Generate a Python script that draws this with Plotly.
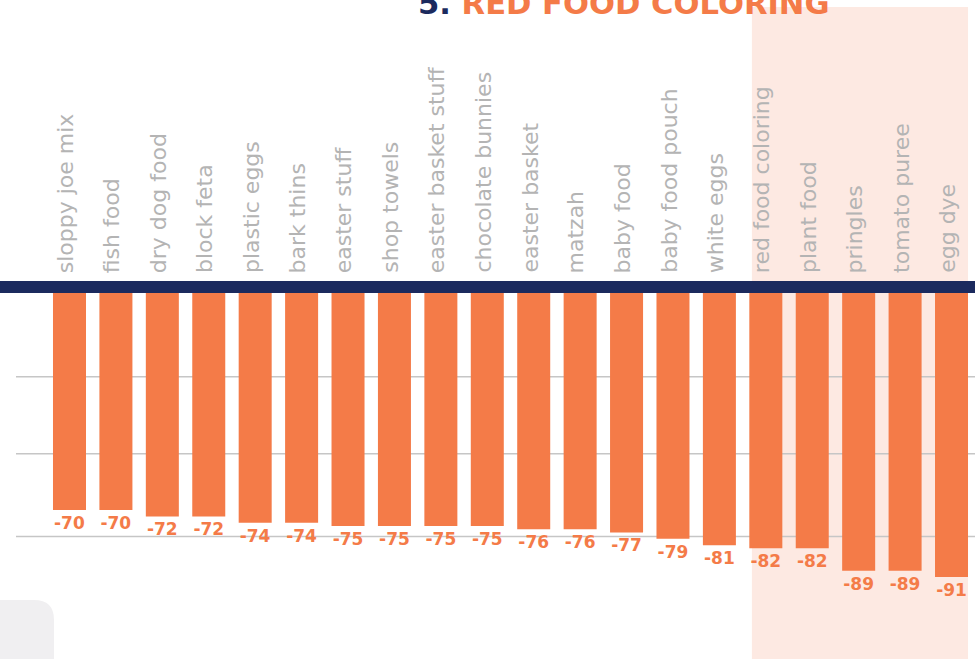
import plotly.graph_objects as go

categories = ["sloppy joe mix", "fish food", "dry dog food", "block feta", "plastic eggs",
              "bark thins", "easter stuff", "shop towels", "easter basket stuff",
              "chocolate bunnies", "easter basket", "matzah", "baby food", "baby food pouch",
              "white eggs", "red food coloring", "plant food", "pringles", "tomato puree", "egg dye"]
values = [-70, -70, -72, -72, -74, -74, -75, -75, -75, -75, -76, -76, -77, -79, -81,
          -82, -82, -89, -89, -91]
value_labels = [str(v) for v in values]
grid_values = [-28.2, -52.3, -78.3]
title_number = "5."
title_text = "RED FOOD COLORING"

ORANGE = "#f47b48"
NAVY = "#1b2a5e"
PINK = "#fde9e2"
GREY_TXT = "#b4b4b4"
W, H = 975, 659
TOP = 0
PH = H - TOP
# y-scale: zero at 287px, 3.187 px per unit
Y_TOP = 287 / 3.187
Y_BOT = -(H - 287) / 3.187

fig = go.Figure()
fig.add_trace(go.Bar(
    x=list(range(len(categories))), y=values,
    text=value_labels, texttemplate="%{text}",
    marker=dict(color=ORANGE, line=dict(width=0)),
    textposition="outside", constraintext="none",
    textfont=dict(family="DejaVu Sans", size=17, color=ORANGE, weight="bold"),
    cliponaxis=False, hoverinfo="skip",
))

shapes = []
# highlight band
shapes.append(dict(type="rect", xref="x", yref="paper", x0=14.70, x1=19.356,
                   y0=-0.02, y1=(H - 7) / PH, fillcolor=PINK, line=dict(width=0), layer="below"))
# grey rounded corner box bottom-left
rx, ry = 20 / W, 20 / PH
xr = 54 / W
yt = (H - 600) / PH
shapes.append(dict(type="path", xref="paper", yref="paper",
                   path=f"M 0,-0.02 L 0,{yt} L {xr - rx},{yt} Q {xr},{yt} {xr},{yt - ry} L {xr},-0.02 Z",
                   fillcolor="#f0eff1", line=dict(width=0), layer="below"))
for g in grid_values:
    shapes.append(dict(type="line", xref="paper", yref="y", x0=16 / W, x1=1, y0=g, y1=g,
                       line=dict(color="#c6c6c6", width=1.5), layer="below"))
shapes.append(dict(type="line", xref="paper", yref="y", x0=0, x1=1, y0=0, y1=0,
                   line=dict(color=NAVY, width=12), layer="above"))

annotations = [dict(
    xref="paper", yref="paper", x=623.5 / W, y=(H - 3.5) / PH,
    xanchor="center", yanchor="middle", showarrow=False,
    text=f"<span style='color:{NAVY}'>{title_number}</span> <span style='color:{ORANGE}'>{title_text}</span>",
    font=dict(family="DejaVu Sans", size=30.6, weight="bold"),
)]
label_y = (H - 274) / PH
for i, c in enumerate(categories):
    annotations.append(dict(
        xref="x", yref="paper", x=i - 0.09, y=label_y, text=c, textangle=-90,
        xanchor="center", yanchor="bottom", showarrow=False, borderpad=0,
        font=dict(family="DejaVu Sans", size=22, color=GREY_TXT),
    ))

fig.update_layout(
    width=W, height=H,
    margin=dict(l=0, r=0, t=TOP, b=0),
    paper_bgcolor="white", plot_bgcolor="rgba(0,0,0,0)",
    bargap=0.289, showlegend=False,
    shapes=shapes, annotations=annotations,
    xaxis=dict(range=[-1.497, 19.506], showticklabels=False,
               ticks="", showgrid=False, zeroline=False, showline=False),
    yaxis=dict(range=[Y_BOT, Y_TOP], showgrid=False, zeroline=False, showticklabels=False,
               showline=False, ticks=""),
)

fig.write_html("out.html", config={"displayModeBar": False},
               post_script="document.body.style.margin='0';document.body.style.overflow='hidden';")
